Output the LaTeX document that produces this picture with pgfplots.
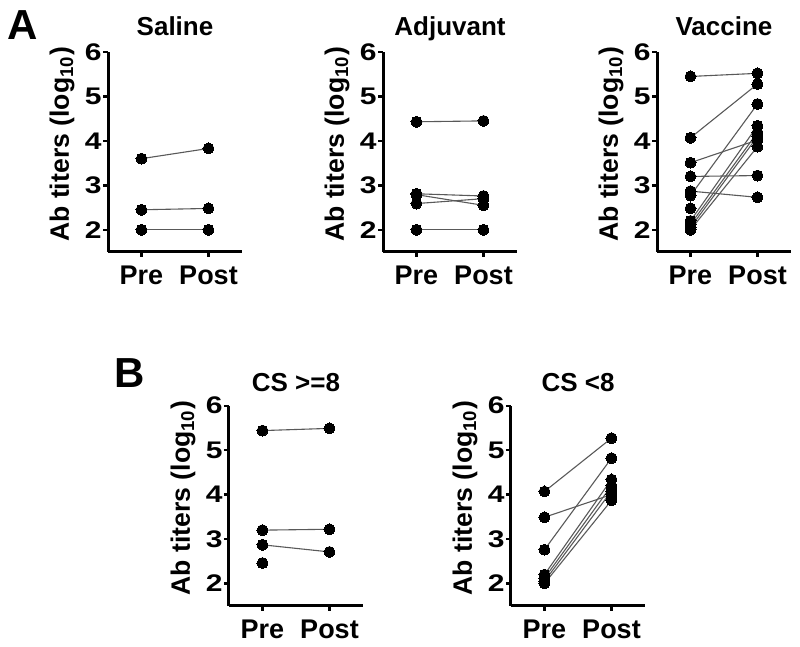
\documentclass[border=0pt]{standalone}
\usepackage{fontspec}
\setmainfont{Liberation Sans}
\newfontfamily\tickfont{Liberation Sans}[FakeStretch=1.25]
\usepackage{pgfplots}
\pgfplotsset{compat=1.18}
\pgfplotsset{
  panel/.style={
    scale only axis, width=67pt, height=100pt,
    xmin=0.5, xmax=2.5, ymin=1.5, ymax=6,
    axis lines=left, axis line style={-, line width=1.5pt},
    xtick={1,2}, xticklabels={Pre,Post},
    ytick={2,3,4,5,6}, yticklabels={2,3,4,5,6},
    tick align=outside, major tick length=2.5pt,
    tick style={line width=1.2pt, black},
    xticklabel style={font=\fontsize{13.5}{15}\selectfont\bfseries, inner sep=0pt, anchor=north, yshift=-4.3pt},
    yticklabel style={font=\fontsize{12}{14}\tickfont\bfseries, inner sep=0pt, anchor=east, xshift=-0.5pt},
    ylabel={Ab titers (log\textsubscript{10})},
    ylabel style={font=\fontsize{13.3}{15}\selectfont\bfseries, at={(rel axis cs:-0.343,0.538)}, anchor=center},
    title style={font=\fontsize{13}{15}\selectfont\bfseries, at={(rel axis cs:0.5,1)}, anchor=base},
    clip=false,
  },
  pair/.style={line width=0.55pt, color=black!65, mark=*, mark options={fill=black, draw=black, line width=0pt}, mark size=2.75pt},
}
\begin{document}
\begin{tikzpicture}
\path[use as bounding box] (0,0) rectangle (400pt,-323.5pt);
\node[font=\fontsize{21}{23}\selectfont\bfseries] at (11.5pt,-12.5pt) {A};
\node[font=\fontsize{21}{23}\selectfont\bfseries] at (65pt,-186.75pt) {B};

% Saline
\begin{axis}[panel, at={(54pt,-126pt)}, anchor=south west, title={Saline}, title style={yshift=2.5pt}]
\addplot[pair] coordinates {(1,3.60) (2,3.83)};
\addplot[pair] coordinates {(1,2.45) (2,2.48)};
\addplot[pair] coordinates {(1,2.00) (2,2.00)};
\end{axis}

% Adjuvant
\begin{axis}[panel, at={(191.5pt,-126pt)}, anchor=south west, title={Adjuvant}, title style={yshift=2.5pt}]
\addplot[pair] coordinates {(1,4.43) (2,4.45)};
\addplot[pair] coordinates {(1,2.81) (2,2.76)};
\addplot[pair] coordinates {(1,2.79) (2,2.55)};
\addplot[pair] coordinates {(1,2.59) (2,2.70)};
\addplot[pair] coordinates {(1,2.00) (2,2.00)};
\end{axis}

% Vaccine
\begin{axis}[panel, at={(328.5pt,-126pt)}, anchor=south west, title={Vaccine}, title style={yshift=2.5pt}]
\addplot[pair] coordinates {(1,5.45) (2,5.52)};
\addplot[pair] coordinates {(1,3.20) (2,3.22)};
\addplot[pair] coordinates {(1,2.87) (2,2.73)};
\addplot[pair, only marks] coordinates {(1,2.48)};
\addplot[pair] coordinates {(1,4.07) (2,5.28)};
\addplot[pair] coordinates {(1,3.51) (2,4.02)};
\addplot[pair] coordinates {(1,2.77) (2,4.83)};
\addplot[pair] coordinates {(1,2.20) (2,4.34)};
\addplot[pair] coordinates {(1,2.12) (2,4.19)};
\addplot[pair] coordinates {(1,2.05) (2,4.10)};
\addplot[pair] coordinates {(1,2.00) (2,3.87)};
\end{axis}

% CS >= 8
\begin{axis}[panel, at={(114.5pt,-302.85pt)}, anchor=south west, title={CS >=8}, title style={yshift=1.35pt}]
\addplot[pair] coordinates {(1,5.44) (2,5.49)};
\addplot[pair] coordinates {(1,3.20) (2,3.22)};
\addplot[pair] coordinates {(1,2.87) (2,2.71)};
\addplot[pair, only marks] coordinates {(1,2.46)};
\end{axis}

% CS < 8
\begin{axis}[panel, at={(255.5pt,-302.85pt)}, anchor=south west, title={CS <8}, title style={yshift=1.35pt}]
\addplot[pair] coordinates {(1,4.07) (2,5.27)};
\addplot[pair] coordinates {(1,3.49) (2,4.00)};
\addplot[pair] coordinates {(1,2.76) (2,4.82)};
\addplot[pair] coordinates {(1,2.20) (2,4.34)};
\addplot[pair] coordinates {(1,2.12) (2,4.20)};
\addplot[pair] coordinates {(1,2.05) (2,4.08)};
\addplot[pair] coordinates {(1,2.00) (2,3.87)};
\end{axis}
\end{tikzpicture}
\end{document}
